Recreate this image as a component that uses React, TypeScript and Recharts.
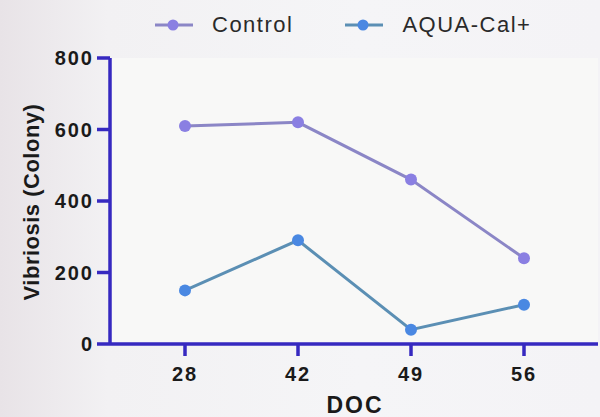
import React from 'react';
import { LineChart, Line, XAxis, YAxis, CartesianGrid } from 'recharts';

// DOC (days of culture) on the x axis
const docDays = ['28', '42', '49', '56'];
// Vibriosis colony counts
const controlValues = [610, 620, 460, 240];
const aquaCalValues = [150, 290, 40, 110];
const yTicks = [0, 200, 400, 600, 800];

const series = [
  { key: 'control', name: 'Control', line: '#8b86c6', dot: '#8a7fe2', values: controlValues },
  { key: 'aqua', name: 'AQUA-Cal+', line: '#5b8fb4', dot: '#4a88e2', values: aquaCalValues },
];

const data = docDays.map((d, i) => ({
  doc: d,
  control: controlValues[i],
  aqua: aquaCalValues[i],
}));

const AXIS = '#3629c0';
const FONT = '"Liberation Sans", Arial, Helvetica, sans-serif';

const YLabel = (props: any) => {
  const vb = props.viewBox;
  const cx = 31;
  const cy = vb.y + vb.height / 2 + 1;
  return (
    <text
      x={cx}
      y={cy}
      transform={`rotate(-90 ${cx} ${cy})`}
      textAnchor="middle"
      dominantBaseline="central"
      fontFamily={FONT}
      fontWeight="bold"
      fontSize={22}
      letterSpacing={0.5}
      fill="#1a1a1a"
    >
      Vibriosis (Colony)
    </text>
  );
};

const XLabel = (props: any) => {
  const vb = props.viewBox;
  return (
    <text
      x={vb.x + vb.width / 2 + 1}
      y={413}
      textAnchor="middle"
      fontFamily={FONT}
      fontWeight="bold"
      fontSize={23}
      letterSpacing={2}
      fill="#1a1a1a"
    >
      DOC
    </text>
  );
};

const tickStyle = { fontFamily: FONT, fontWeight: 'bold', fontSize: 20, fill: '#1a1a1a', letterSpacing: 2 };

export default function App() {
  return (
    <div
      style={{
        position: 'fixed',
        left: 0,
        top: 0,
        width: 600,
        height: 417,
        background: 'linear-gradient(90deg, #e8e3e7 0%, #f2f1f3 18%, #f5f5f7 60%, #f4f3f6 100%)',
        overflow: 'hidden',
      }}
    >
      {/* legend */}
      <div
        style={{
          position: 'absolute',
          top: 11,
          left: 155,
          display: 'flex',
          alignItems: 'center',
          fontFamily: FONT,
          fontSize: 22,
          letterSpacing: 1.5,
          color: '#2a2a2a',
          lineHeight: '28px',
        }}
      >
        {series.map((s, i) => (
          <div key={s.key} style={{ display: 'flex', alignItems: 'center', marginRight: i === 0 ? 52 : 0 }}>
            <svg width={38} height={14} style={{ marginRight: 19 }}>
              <line x1={0} y1={7} x2={38} y2={7} stroke={s.line} strokeWidth={3} />
              <circle cx={18} cy={7} r={5.5} fill={s.dot} />
            </svg>
            <span>{s.name}</span>
          </div>
        ))}
      </div>

      <LineChart width={600} height={417} data={data} margin={{ top: 58, right: 2, left: 0, bottom: 0 }}>
        <CartesianGrid horizontal={false} vertical={false} fill="#f8f8f7" />
        <XAxis
          dataKey="doc"
          height={73}
          padding={{ left: 75, right: 74 }}
          axisLine={{ stroke: AXIS, strokeWidth: 3.5 }}
          tickLine={{ stroke: AXIS, strokeWidth: 3.5 }}
          tickSize={12}
          tickMargin={11}
          tick={tickStyle}
          label={<XLabel />}
        />
        <XAxis
          xAxisId="top"
          dataKey="doc"
          orientation="top"
          height={0}
          tick={false}
          tickLine={false}
          axisLine={{ stroke: AXIS, strokeWidth: 3.5 }}
        />
        <YAxis
          width={110}
          domain={[0, 800]}
          ticks={yTicks}
          axisLine={{ stroke: AXIS, strokeWidth: 3.5 }}
          tickLine={{ stroke: AXIS, strokeWidth: 3.5 }}
          tickSize={13}
          tickMargin={3}
          tick={tickStyle}
          label={<YLabel />}
        />
        <YAxis
          yAxisId="right"
          orientation="right"
          width={0}
          domain={[0, 800]}
          tick={false}
          tickLine={false}
          axisLine={{ stroke: AXIS, strokeWidth: 3.5 }}
        />
        {series.map((s) => (
          <Line
            key={s.key}
            dataKey={s.key}
            name={s.name}
            stroke={s.line}
            strokeWidth={3}
            dot={{ r: 6, fill: s.dot, stroke: s.dot, strokeWidth: 0 }}
            activeDot={false}
            isAnimationActive={false}
          />
        ))}
      </LineChart>
    </div>
  );
}
